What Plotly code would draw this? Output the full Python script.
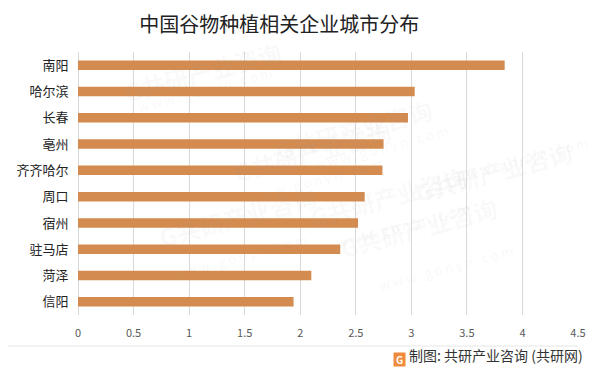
import plotly.graph_objects as go

cities = ["南阳", "哈尔滨", "长春", "亳州", "齐齐哈尔", "周口", "宿州", "驻马店", "菏泽", "信阳"]
values = [3.84, 3.03, 2.97, 2.75, 2.74, 2.58, 2.52, 2.36, 2.10, 1.94]
x_ticks = [0, 0.5, 1, 1.5, 2, 2.5, 3, 3.5, 4, 4.5]
tick_text = ["0", "0.5", "1", "1.5", "2", "2.5", "3", "3.5", "4", "4.5"]

FONT = "Noto Sans CJK SC, Microsoft YaHei, sans-serif"

fig = go.Figure(go.Bar(
    x=values, y=cities, orientation="h",
    marker=dict(color="#D38B4F", line=dict(width=0)),
    width=0.36,
))

# the page body adds an 8px offset, so margins are compensated by 8px
fig.update_layout(
    width=600, height=373,
    margin=dict(l=70, r=30, t=44, b=66, autoexpand=False),
    paper_bgcolor="white", plot_bgcolor="white",
    showlegend=False,
    title=dict(text="中国谷物种植相关企业城市分布", x=0.452, xanchor="center",
               y=0.954, yanchor="middle",
               font=dict(family=FONT, size=20, color="#222222")),
    font=dict(family=FONT),
)

fig.update_xaxes(range=[0, 4.5], tickvals=x_ticks, ticktext=tick_text,
                 automargin=False,
                 showgrid=True, gridcolor="#D9D9D9", gridwidth=1,
                 zeroline=True, zerolinecolor="#D9D9D9", zerolinewidth=1,
                 showline=False, ticks="outside", ticklen=8, tickcolor="rgba(0,0,0,0)",
                 tickfont=dict(family=FONT, size=11, color="#595959"))
fig.update_yaxes(categoryorder="array", categoryarray=cities[::-1],
                 automargin=False,
                 showgrid=False, showline=False, ticks="outside", ticklen=6,
                 tickcolor="rgba(0,0,0,0)",
                 tickfont=dict(family=FONT, size=13, color="#222222"))

# faint watermarks spread over the chart
wm = [(0.08, 1.08), (0.72, 0.86), (0.30, 0.62), (1.0, 0.70), (0.62, 0.45), (0.15, 0.22), (0.85, 0.18)]
for (wx, wy) in wm:
    fig.add_annotation(xref="paper", yref="paper", x=wx, y=wy, showarrow=False,
                       text="<b>G共研产业咨询</b>", textangle=-15,
                       font=dict(family=FONT, size=24, color="rgba(160,160,160,0.07)"))
    fig.add_annotation(xref="paper", yref="paper", x=wx + 0.03, y=wy - 0.11, showarrow=False,
                       text="w w w . g o n y n . c o m", textangle=-15,
                       font=dict(family=FONT, size=13, color="rgba(160,160,160,0.09)"))

# footer separator line
fig.add_shape(type="line", xref="paper", yref="paper", x0=-0.156, x1=1.0,
              y0=-0.118, y1=-0.118, line=dict(color="#E6E6E6", width=1))

# footer logo
fig.add_annotation(xref="paper", yref="paper", x=0.642, y=-0.198, showarrow=False,
                   text="<b>G</b>", bgcolor="#F08A3C", width=11, height=13,
                   font=dict(family=FONT, size=10, color="white"), borderpad=0)
fig.add_annotation(xref="paper", yref="paper", x=1.014, xanchor="right", y=-0.198,
                   showarrow=False, text="制图: 共研产业咨询 (共研网)",
                   font=dict(family=FONT, size=14, color="#333333"))

fig.write_html("out.html")
